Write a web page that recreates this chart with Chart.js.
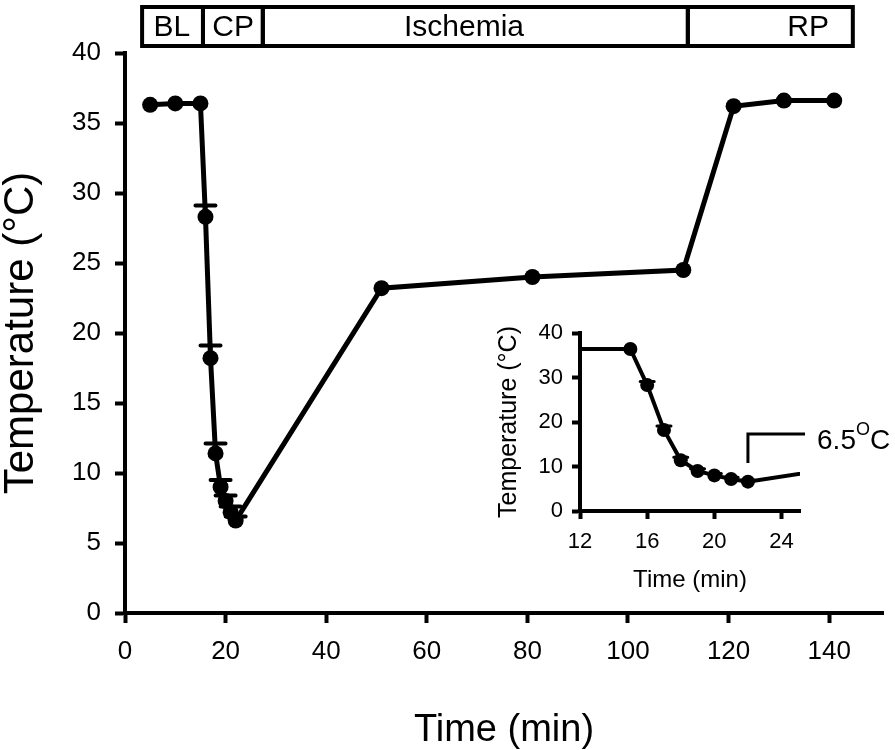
<!DOCTYPE html>
<html>
<head>
<meta charset="utf-8">
<script src="https://cdn.jsdelivr.net/npm/chart.js@4.4.0/dist/chart.umd.min.js"></script>
<style>
  html, body { margin: 0; padding: 0; background: #fff; }
  #wrap { position: relative; width: 895px; height: 750px; }
  #main { position: absolute; left: 0; top: 0; }
  #inset { position: absolute; left: 480px; top: 305px; }
</style>
</head>
<body>
<div id="wrap">
  <canvas id="main" width="895" height="750"></canvas>
  <canvas id="inset" width="415" height="295"></canvas>
</div>
<script>
// Temperature time course (mean with upper error)
const timeMin = [5, 10, 15, 16, 17, 18, 19, 20, 21, 22, 51, 81, 111, 121, 131, 141];
const tempC   = [36.3, 36.4, 36.4, 28.3, 18.2, 11.4, 9.0, 8.0, 7.2, 6.6, 23.2, 24.0, 24.5, 36.2, 36.6, 36.6];
const tempErr = [0, 0, 0, 0.8, 0.9, 0.7, 0.5, 0.4, 0.4, 0.3, 0, 0, 0, 0, 0, 0];

// Axis ticks
const xTicksMain  = [0, 20, 40, 60, 80, 100, 120, 140];
const yTicksMain  = [0, 5, 10, 15, 20, 25, 30, 35, 40];
const xTicksInset = [12, 16, 20, 24];
const yTicksInset = [0, 10, 20, 30, 40];

// Protocol phases across the top (edges in minutes)
const phaseNames   = ['BL', 'CP', 'Ischemia', 'RP'];
const phaseEdges   = [3.4, 15.5, 27.4, 111.9, 144.7];
const phaseLabelAt = [9.3, 21.5, 67.4, 135.8];

const FONT = '"Liberation Sans", Arial, Helvetica, sans-serif';
const points = () => timeMin.map((t, i) => ({ x: t, y: tempC[i] }));
const useTicks = arr => s => { s.ticks = arr.map(v => ({ value: v })); };

// upper error bars only, drawn under the markers
function errorBars(capHalf, lw) {
    return {
        id: 'errorBars',
        beforeDatasetsDraw(chart) {
            const { ctx, chartArea: a } = chart;
            const { x, y } = chart.scales;
            ctx.save();
            ctx.beginPath();
            ctx.rect(a.left, a.top - 10, a.right - a.left, a.bottom - a.top + 10);
            ctx.clip();
            ctx.strokeStyle = '#000';
            ctx.lineWidth = lw;
            ctx.lineCap = 'round';
            timeMin.forEach((t, i) => {
                const e = tempErr[i];
                if (!e) return;
                const px = x.getPixelForValue(t);
                const hi = y.getPixelForValue(tempC[i] + e);
                const mid = y.getPixelForValue(tempC[i]);
                ctx.beginPath();
                ctx.moveTo(px, hi); ctx.lineTo(px, mid);
                ctx.moveTo(px - capHalf, hi); ctx.lineTo(px + capHalf, hi);
                ctx.stroke();
            });
            ctx.restore();
        }
    };
}

const phaseBar = {
    id: 'phaseBar',
    afterDraw(chart) {
        const { ctx } = chart;
        const x = chart.scales.x;
        ctx.save();
        ctx.lineWidth = 4;
        ctx.strokeStyle = '#000';
        ctx.fillStyle = '#000';
        ctx.font = '30px ' + FONT;
        ctx.textAlign = 'center';
        ctx.textBaseline = 'middle';
        phaseNames.forEach((name, i) => {
            const x0 = x.getPixelForValue(phaseEdges[i]);
            const x1 = x.getPixelForValue(phaseEdges[i + 1]);
            ctx.strokeRect(x0, 7, x1 - x0, 39);
            ctx.fillText(name, x.getPixelForValue(phaseLabelAt[i]), 28);
        });
        ctx.restore();
    }
};

const insetNote = {
    id: 'insetNote',
    afterDraw(chart) {
        const { ctx } = chart;
        const { x, y } = chart.scales;
        const px = x.getPixelForValue(22);
        const y0 = y.getPixelForValue(10.8);
        const y1 = y.getPixelForValue(17.3);
        const x1 = x.getPixelForValue(25.4);
        ctx.save();
        ctx.lineWidth = 3;
        ctx.strokeStyle = '#000';
        ctx.beginPath();
        ctx.moveTo(px, y0); ctx.lineTo(px, y1); ctx.lineTo(x1, y1);
        ctx.stroke();
        ctx.fillStyle = '#000';
        ctx.textBaseline = 'alphabetic';
        const base = y1 + 15;
        let tx = x1 + 12;
        ctx.font = '28px ' + FONT;
        ctx.fillText('6.5', tx, base);
        tx += ctx.measureText('6.5').width;
        ctx.font = '18px ' + FONT;
        ctx.fillText('O', tx, base - 14);
        tx += ctx.measureText('O').width;
        ctx.font = '28px ' + FONT;
        ctx.fillText('C', tx, base);
        ctx.restore();
    }
};

function axis(opts) {
    return {
        type: 'linear',
        min: opts.min,
        max: opts.max,
        afterBuildTicks: useTicks(opts.ticks),
        afterFit: opts.fit,
        border: { display: true, color: '#000', width: 4 },
        grid: { display: true, drawOnChartArea: false, drawTicks: true, tickLength: opts.tickLen, tickWidth: 4, tickColor: '#000' },
        ticks: { color: '#000', font: { family: FONT, size: opts.tickSize }, padding: opts.tickPad, maxRotation: 0, autoSkip: false },
        title: { display: true, text: opts.title, color: '#000', font: { family: FONT, size: opts.titleSize, lineHeight: 1 }, padding: opts.titlePad }
    };
}

new Chart(document.getElementById('main'), {
    type: 'scatter',
    data: {
        datasets: [{
            data: points(),
            showLine: true,
            borderColor: '#000',
            borderWidth: 5,
            pointRadius: 8,
            pointBackgroundColor: '#000',
            pointBorderWidth: 0,
            tension: 0
        }]
    },
    options: {
        responsive: false,
        animation: false,
        devicePixelRatio: 1,
        layout: { padding: { top: 53, right: 12, left: 0, bottom: 0 } },
        plugins: { legend: { display: false }, tooltip: { enabled: false } },
        scales: {
            x: axis({ min: 0, max: 150.7, ticks: xTicksMain, fit: s => { s.height = 137; }, tickLen: 10, tickSize: 26, tickPad: 13, title: 'Time (min)', titleSize: 38, titlePad: 0 }),
            y: axis({ min: 0, max: 40, ticks: yTicksMain, fit: s => { s.width = 125; }, tickLen: 10, tickSize: 26, tickPad: 14, title: 'Temperature (°C)', titleSize: 42, titlePad: 0 })
        }
    },
    plugins: [errorBars(10, 4), phaseBar]
});

new Chart(document.getElementById('inset'), {
    type: 'scatter',
    data: {
        datasets: [{
            data: points(),
            showLine: true,
            borderColor: '#000',
            borderWidth: 4,
            pointRadius: 7,
            pointBackgroundColor: '#000',
            pointBorderWidth: 0,
            tension: 0
        }]
    },
    options: {
        responsive: false,
        animation: false,
        devicePixelRatio: 1,
        layout: { padding: { top: 28, right: 95, left: 0, bottom: 0 } },
        plugins: { legend: { display: false }, tooltip: { enabled: false } },
        scales: {
            x: axis({ min: 12, max: 25.1, ticks: xTicksInset, fit: s => { s.height = 89; }, tickLen: 8, tickSize: 22, tickPad: 10, title: 'Time (min)', titleSize: 24, titlePad: 8 }),
            y: axis({ min: 0, max: 40, ticks: yTicksInset, fit: s => { s.width = 100; }, tickLen: 8, tickSize: 22, tickPad: 9, title: 'Temperature (°C)', titleSize: 25, titlePad: 17 })
        }
    },
    plugins: [errorBars(7, 3), insetNote]
});
</script>
</body>
</html>
